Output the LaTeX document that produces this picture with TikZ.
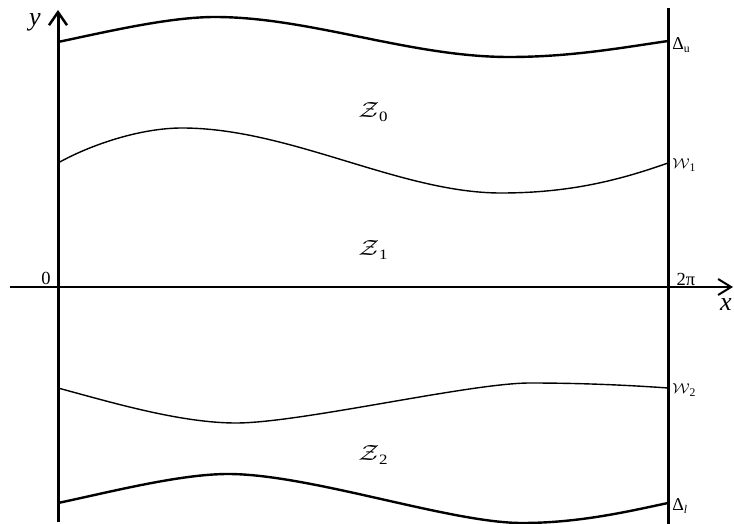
\documentclass[tikz,border=0pt]{standalone}
\usepackage{amsmath}
\usepackage{fontspec}
\setmainfont{Liberation Serif}
\usetikzlibrary{arrows.meta}
\newcommand{\scw}{\scalebox{0.9}[0.8]{$\mathcal{W}$}}
\newcommand{\sbs}[1]{\raisebox{-0.35ex}{\fontsize{6.5}{6.5}\selectfont #1}}
\begin{document}
\begin{tikzpicture}[x=1pt,y=-1pt,
  axisline/.style={line width=2pt},
  wallline/.style={line width=3pt},
  boundcurve/.style={line width=2.4pt},
  innercurve/.style={line width=1.4pt},
  numlabel/.style={inner sep=0pt,scale=1.85},
  axlabel/.style={inner sep=0pt,scale=2.6,font=\itshape},
  rlabel/.style={anchor=west,inner sep=0pt,scale=1.8},
  zlabel/.style={inner sep=0pt,xscale=2.6,yscale=2.2}]
\useasboundingbox (0,0) rectangle (734,524);
% coordinates
\coordinate (ybot) at (58,522);
\coordinate (ytop) at (58,10);
\coordinate (xl) at (10,287);
\coordinate (xr) at (733,287);
\coordinate (rtop) at (668,8);
\coordinate (rbot) at (668,525);
% axes
\draw[wallline,-{Straight Barb[length=13pt,width=18pt,line width=2.5pt]}] (ybot) -- (ytop);
\draw[axisline,-{Straight Barb[length=13pt,width=16pt,line width=2pt]}] (xl) -- (xr);
\draw[wallline] (rbot) -- (rtop);
% curves
\draw[boundcurve] (58,42) .. controls (110,31) and (170,17) .. (215,17)
  .. controls (310,17) and (410,57) .. (509,57)
  .. controls (570,57) and (620,48) .. (668,41);
\draw[innercurve] (58,163) .. controls (90,145) and (140,128) .. (182,128)
  .. controls (290,128) and (400,193) .. (501,193)
  .. controls (570,193) and (620,180) .. (668,163);
\draw[innercurve] (58,388) .. controls (110,402) and (180,423) .. (236,423)
  .. controls (300,423) and (470,383) .. (530,383)
  .. controls (590,383) and (640,386) .. (668,388);
\draw[boundcurve] (58,503) .. controls (110,492) and (180,474) .. (228,474)
  .. controls (310,474) and (450,523) .. (522,523)
  .. controls (580,523) and (630,511) .. (668,503);
% labels
\node[axlabel] (ylab) at (35,22) {y};
\node[axlabel] (xlab) at (726,305) {x};
\node[numlabel] (zero) at (46,278) {0};
\node[numlabel] (twopi) at (686,279) {2π};
\node[rlabel] (du) at (672,45) {Δ\sbs{u}};
\node[rlabel] (w1) at (672,165) {\scw\sbs{1}};
\node[rlabel] (w2) at (672,390) {\scw\sbs{2}};
\node[rlabel] (dl) at (672,506) {Δ\sbs{\itshape l}};
\node[zlabel] (z0) at (373,112) {$\mathcal{Z}$\sbs{0}};
\node[zlabel] (z1) at (373,250) {$\mathcal{Z}$\sbs{1}};
\node[zlabel] (z2) at (373,455) {$\mathcal{Z}$\sbs{2}};
\end{tikzpicture}
\end{document}
